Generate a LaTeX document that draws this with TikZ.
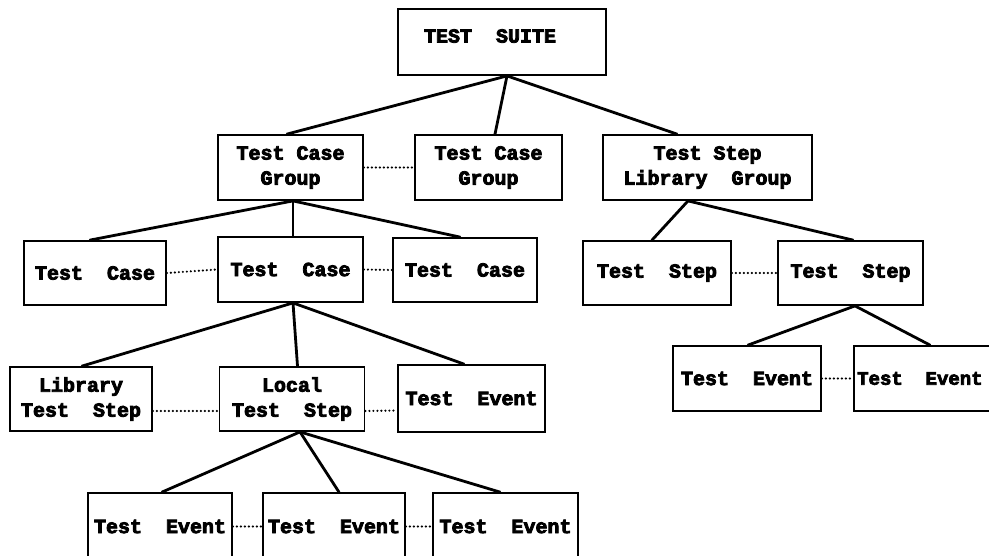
\documentclass[tikz,border=0pt]{standalone}
\usepackage{fontspec}
\setmonofont{Liberation Mono}
\newfontfamily\heavytt{Liberation Mono Bold}[FakeBold=4]
\begin{document}
\begin{tikzpicture}[x=1pt,y=-1pt,
  box/.style={draw=black, line width=1.8pt, inner sep=0pt, align=center,
    font=\heavytt\fontsize{20}{25}\selectfont},
  link/.style={line width=2.8pt, line cap=round},
  dots/.style={line width=2.4pt, line cap=round, dash pattern=on 0pt off 4pt}]
\useasboundingbox (0,0) rectangle (989,556);
\clip (0,0) rectangle (989,556);
\fill[white] (0,0) rectangle (989,556);
% level 0
\node[box, minimum width=208pt, minimum height=66pt] (ts) at (502,42) {};
\node[font=\heavytt\fontsize{20}{25}\selectfont] (tstext) at (490,36) {TEST\ \ SUITE};
% level 1
\node[box, minimum width=145pt, minimum height=65pt] (tcg1) at (290.5,167.5) {Test Case\\Group};
\node[box, minimum width=147pt, minimum height=65pt] (tcg2) at (488.5,167.5) {Test Case\\Group};
\node[box, minimum width=209pt, minimum height=65pt] (tslg) at (707.5,167.5) {Test Step\\Library\ \ Group};
% level 2
\node[box, minimum width=142pt, minimum height=64pt] (tc1) at (95,273) {Test\ \ Case};
\node[box, minimum width=145pt, minimum height=65pt] (tc2) at (290.5,269.5) {Test\ \ Case};
\node[box, minimum width=144pt, minimum height=64pt] (tc3) at (465,270) {Test\ \ Case};
\node[box, minimum width=148pt, minimum height=64pt] (st1) at (657,273) {Test\ \ Step};
\node[box, minimum width=145pt, minimum height=64pt] (st2) at (850.5,273) {Test\ \ Step};
% level 3
\node[box, minimum width=142pt, minimum height=64pt] (lts) at (81,399) {Library\\Test\ \ Step};
\node[box, minimum width=145pt, minimum height=64pt] (lcl) at (292,399) {Local\\Test\ \ Step};
\node[box, minimum width=147pt, minimum height=67pt] (te) at (471.5,398.5) {Test\ \ Event};
\node[box, minimum width=148pt, minimum height=65pt] (r1) at (747,378.5) {Test\ \ Event};
\node[box, minimum width=148pt, minimum height=65pt, anchor=west] (r2) at (853,378.5) {};
\node[font=\heavytt\fontsize{19}{24}\selectfont, anchor=west, inner sep=0pt] (r2text) at (857,378.5) {Test\ \ Event};
% level 4
\node[box, minimum width=144pt, minimum height=67pt] (e1) at (160,526.5) {Test\ \ Event};
\node[box, minimum width=142pt, minimum height=67pt] (e2) at (334,526.5) {Test\ \ Event};
\node[box, minimum width=145pt, minimum height=67pt] (e3) at (505.5,526.5) {Test\ \ Event};
% tree links
\draw[link] ([xshift=5pt]ts.south) -- ([xshift=-3.5pt]tcg1.north);
\draw[link] ([xshift=5pt]ts.south) -- ([xshift=6.5pt]tcg2.north);
\draw[link] ([xshift=5pt]ts.south) -- ([xshift=-30.5pt]tslg.north);
\draw[link] ([xshift=2.5pt]tcg1.south) -- ([xshift=-5pt]tc1.north);
\draw[link] ([xshift=2.5pt]tcg1.south) -- ([xshift=2.5pt]tc2.north);
\draw[link] ([xshift=2.5pt]tcg1.south) -- ([xshift=-5pt]tc3.north);
\draw[link] ([xshift=2.5pt]tc2.south) -- ([xshift=1pt]lts.north);
\draw[link] ([xshift=2.5pt]tc2.south) -- ([xshift=5.5pt]lcl.north);
\draw[link] ([xshift=2.5pt]tc2.south) -- ([xshift=-7.5pt]te.north);
\draw[link] ([xshift=8pt]lcl.south) -- ([xshift=2pt]e1.north);
\draw[link] ([xshift=8pt]lcl.south) -- ([xshift=5pt]e2.north);
\draw[link] ([xshift=8pt]lcl.south) -- ([xshift=-5.5pt]e3.north);
\draw[link] ([xshift=-19.5pt]tslg.south) -- ([xshift=-5pt]st1.north);
\draw[link] ([xshift=-19.5pt]tslg.south) -- ([xshift=2.5pt]st2.north);
\draw[link] ([xshift=4.5pt]st2.south) -- ([xshift=1pt]r1.north);
\draw[link] ([xshift=4.5pt]st2.south) -- ([xshift=77pt]r2.north west);
% sibling dotted links
\draw[dots] (tcg1.east) -- (tcg2.west);
\draw[dots] (tc1.east) -- (tc2.west);
\draw[dots] (tc2.east) -- (tc3.west);
\draw[dots] (st1.east) -- (st2.west);
\draw[dots] ([yshift=-12pt]lts.east) -- ([yshift=-12pt]lcl.west);
\draw[dots] ([yshift=-12pt]lcl.east) -- ([yshift=-12pt]te.west);
\draw[dots] (r1.east) -- (r2.west);
\draw[dots] (e1.east) -- (e2.west);
\draw[dots] (e2.east) -- (e3.west);
\end{tikzpicture}
\end{document}
